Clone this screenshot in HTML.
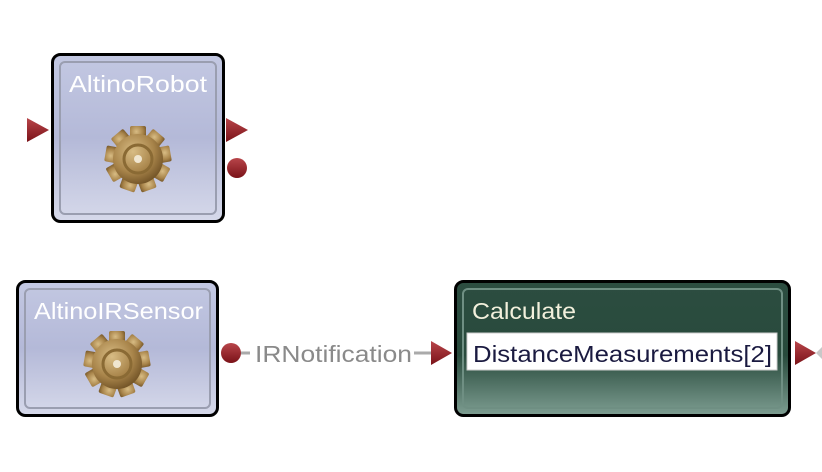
<!DOCTYPE html>
<html><head><meta charset="utf-8"><style>
html,body{margin:0;padding:0;background:#fff;width:822px;height:472px;overflow:hidden}
svg text{font-family:"Liberation Sans",sans-serif}
</style></head><body>
<svg width="822" height="472" viewBox="0 0 822 472" xmlns="http://www.w3.org/2000/svg">
<defs>
<linearGradient id="blu" x1="0" y1="0" x2="0" y2="1">
<stop offset="0" stop-color="#c3c8e2"/><stop offset="0.5" stop-color="#b4b9d8"/><stop offset="1" stop-color="#d6d9ea"/>
</linearGradient>
<linearGradient id="grn" x1="0" y1="0" x2="0" y2="1">
<stop offset="0" stop-color="#2c4d40"/><stop offset="0.55" stop-color="#284a3c"/><stop offset="1" stop-color="#7e9e92"/>
</linearGradient>
<radialGradient id="gold" cx="0.4" cy="0.35" r="0.7">
<stop offset="0" stop-color="#d8bc84"/><stop offset="0.6" stop-color="#a8844a"/><stop offset="1" stop-color="#6e5024"/>
</radialGradient>
<linearGradient id="red" x1="0" y1="0" x2="0" y2="1">
<stop offset="0" stop-color="#b8454a"/><stop offset="1" stop-color="#7a1218"/>
</linearGradient>
<g id="gear">
<g fill="url(#gold)">
<rect x="-8" y="-33" width="16" height="16" rx="2"/>
<rect x="-8" y="-33" width="16" height="16" rx="2" transform="rotate(40)"/>
<rect x="-8" y="-33" width="16" height="16" rx="2" transform="rotate(80)"/>
<rect x="-8" y="-33" width="16" height="16" rx="2" transform="rotate(120)"/>
<rect x="-8" y="-33" width="16" height="16" rx="2" transform="rotate(160)"/>
<rect x="-8" y="-33" width="16" height="16" rx="2" transform="rotate(200)"/>
<rect x="-8" y="-33" width="16" height="16" rx="2" transform="rotate(240)"/>
<rect x="-8" y="-33" width="16" height="16" rx="2" transform="rotate(280)"/>
<rect x="-8" y="-33" width="16" height="16" rx="2" transform="rotate(320)"/>
<circle r="25"/>
</g>
<circle r="14" fill="none" stroke="#8a6a34" stroke-width="3"/>
<circle r="4" fill="#f0e6d0"/>
</g>
</defs>

<!-- AltinoRobot -->
<rect x="52.5" y="54.5" width="171" height="167" rx="8" fill="url(#blu)" stroke="#000" stroke-width="3"/>
<rect x="60" y="62" width="156" height="152" rx="5" fill="none" stroke="#9a9eb0" stroke-width="2"/>
<text x="69" y="92" font-size="23" fill="#fff" textLength="138" lengthAdjust="spacingAndGlyphs">AltinoRobot</text>
<use href="#gear" transform="translate(138,159)"/>
<polygon points="27,118 49,130 27,142" fill="url(#red)"/>
<polygon points="226,118 248,130 226,142" fill="url(#red)"/>
<circle cx="237" cy="168" r="10" fill="url(#red)"/>

<!-- AltinoIRSensor -->
<rect x="17.5" y="281.5" width="200" height="134" rx="8" fill="url(#blu)" stroke="#000" stroke-width="3"/>
<rect x="25" y="289" width="185" height="119" rx="5" fill="none" stroke="#9a9eb0" stroke-width="2"/>
<text x="34" y="319" font-size="23" fill="#fff" textLength="169" lengthAdjust="spacingAndGlyphs">AltinoIRSensor</text>
<use href="#gear" transform="translate(117,364)"/>

<!-- connector -->
<line x1="241" y1="353" x2="432" y2="353" stroke="#aaa" stroke-width="3"/>
<rect x="250" y="340" width="164" height="26" fill="#fff"/>
<text x="255" y="362" font-size="23" fill="#8a8a8a" textLength="157" lengthAdjust="spacingAndGlyphs">IRNotification</text>
<circle cx="231" cy="353" r="10" fill="url(#red)"/>
<polygon points="431,341 452,353 431,365" fill="url(#red)"/>

<!-- Calculate -->
<rect x="455.5" y="281.5" width="334" height="134" rx="8" fill="url(#grn)" stroke="#000" stroke-width="3"/>
<rect x="463" y="289" width="319" height="119" rx="5" fill="none" stroke="#6f8f83" stroke-width="2"/>
<text x="472" y="319" font-size="23" fill="#f2f0dc" textLength="104" lengthAdjust="spacingAndGlyphs">Calculate</text>
<rect x="467" y="333" width="310" height="37" fill="#fff" stroke="#ccc" stroke-width="1"/>
<text x="473" y="362" font-size="23" fill="#1a1a40" textLength="299" lengthAdjust="spacingAndGlyphs">DistanceMeasurements[2]</text>
<polygon points="795,341 816,353 795,365" fill="url(#red)"/>
<polygon points="816,353 822,347 822,359" fill="#c8c8c8"/>
</svg>
</body></html>
